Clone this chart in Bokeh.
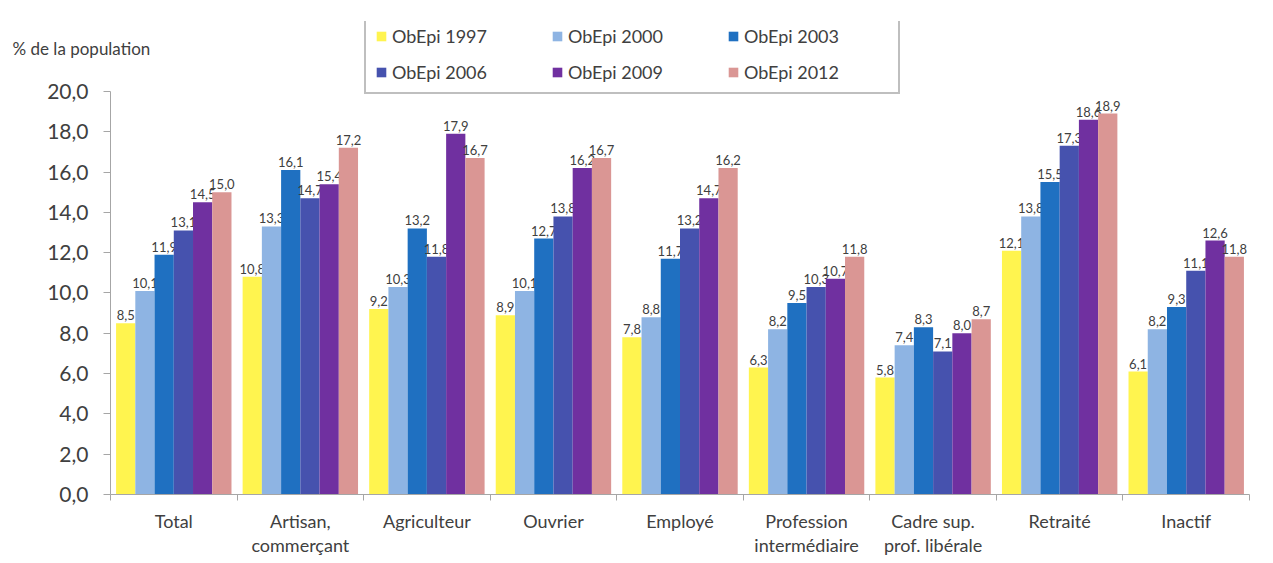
from bokeh.plotting import figure
from bokeh.models import Range1d, FixedTicker, ColumnDataSource, Legend, LegendItem, Label
from bokeh.core.properties import value
from bokeh.embed import file_html
from bokeh.resources import INLINE

categories = ["Total", "Artisan,\ncommerçant", "Agriculteur", "Ouvrier", "Employé",
              "Profession\nintermédiaire", "Cadre sup.\nprof. libérale", "Retraité", "Inactif"]
series = ["ObEpi 1997", "ObEpi 2000", "ObEpi 2003", "ObEpi 2006", "ObEpi 2009", "ObEpi 2012"]
v1997 = [8.5, 10.8, 9.2, 8.9, 7.8, 6.3, 5.8, 12.1, 6.1]
v2000 = [10.1, 13.3, 10.3, 10.1, 8.8, 8.2, 7.4, 13.8, 8.2]
v2003 = [11.9, 16.1, 13.2, 12.7, 11.7, 9.5, 8.3, 15.5, 9.3]
v2006 = [13.1, 14.7, 11.8, 13.8, 13.2, 10.3, 7.1, 17.3, 11.1]
v2009 = [14.5, 15.4, 17.9, 16.2, 14.7, 10.7, 8.0, 18.6, 12.6]
v2012 = [15.0, 17.2, 16.7, 16.7, 16.2, 11.8, 8.7, 18.9, 11.8]
y_ticks = [0, 2, 4, 6, 8, 10, 12, 14, 16, 18, 20]

values = [v1997, v2000, v2003, v2006, v2009, v2012]
colors = ["#FFF44F", "#8EB4E3", "#1F70C1", "#4652AE", "#7030A0", "#DA9694"]

FONT = "Lato"
TXT = "#404040"
AX = "#A6A6A6"

n = len(categories)
p = figure(width=1273, height=563, output_backend="svg", toolbar_location=None,
           x_range=Range1d(0, n), y_range=Range1d(0, 23.47),
           min_border_left=110, min_border_right=24, min_border_top=5, min_border_bottom=69)
p.outline_line_color = None
p.xgrid.visible = False
p.ygrid.visible = False

bw = 0.152
items = []
for j, (name, vals, col) in enumerate(zip(series, values, colors)):
    xs = [i + 0.5 + (j - 2.5) * bw for i in range(n)]
    src = ColumnDataSource(dict(x=xs, top=vals, lab=[f"{v:.1f}".replace(".", ",") for v in vals]))
    r = p.vbar(x="x", top="top", width=bw, source=src, fill_color=col, line_color=None)
    p.text(x="x", y="top", text="lab", source=src, text_align="center", text_baseline="bottom",
           y_offset=-3, text_font=value(FONT), text_font_size="13px", text_color=TXT)
    items.append(LegendItem(label=name, renderers=[r]))

# y axis
p.yaxis.ticker = FixedTicker(ticks=y_ticks)
p.yaxis.major_label_overrides = {t: f"{t:.1f}".replace(".", ",") for t in y_ticks}
p.yaxis.bounds = (0, 20)
p.yaxis.axis_line_color = AX
p.yaxis.major_tick_line_color = AX
p.yaxis.major_tick_out = 7
p.yaxis.major_tick_in = 0
p.yaxis.minor_tick_line_color = None
p.yaxis.major_label_text_font = FONT
p.yaxis.major_label_text_font_size = "21px"
p.yaxis.major_label_text_color = TXT
p.yaxis.major_label_standoff = 15

# x axis
centers = [i + 0.5 for i in range(n)]
p.xaxis.ticker = FixedTicker(ticks=centers, minor_ticks=list(range(n + 1)))
p.xaxis.major_label_overrides = {c: lab for c, lab in zip(centers, categories)}
p.xaxis.axis_line_color = AX
p.xaxis.major_tick_line_color = None
p.xaxis.minor_tick_line_color = AX
p.xaxis.minor_tick_out = 6
p.xaxis.minor_tick_in = 0
p.xaxis.major_label_text_font = FONT
p.xaxis.major_label_text_font_size = "18px"
p.xaxis.major_label_text_line_height = 1.1
p.xaxis.major_label_text_color = TXT
p.xaxis.major_label_standoff = 9

legend = Legend(items=items, location=(254, 400), orientation="horizontal", ncols=3,
                border_line_color="#7F7F7F", border_line_width=2,
                label_text_font=FONT, label_text_font_size="18px", label_text_color=TXT,
                glyph_width=12, glyph_height=12, label_standoff=5, label_width=145,
                label_height=20, spacing=14, padding=9, margin=0,
                background_fill_alpha=1)
p.add_layout(legend, "center")

p.add_layout(Label(x=-0.774, y=22.13, text="% de la population", text_baseline="middle",
                   text_font=FONT, text_font_size="17px", text_color=TXT), "above")

open("out.html", "w").write(file_html(p, INLINE))
